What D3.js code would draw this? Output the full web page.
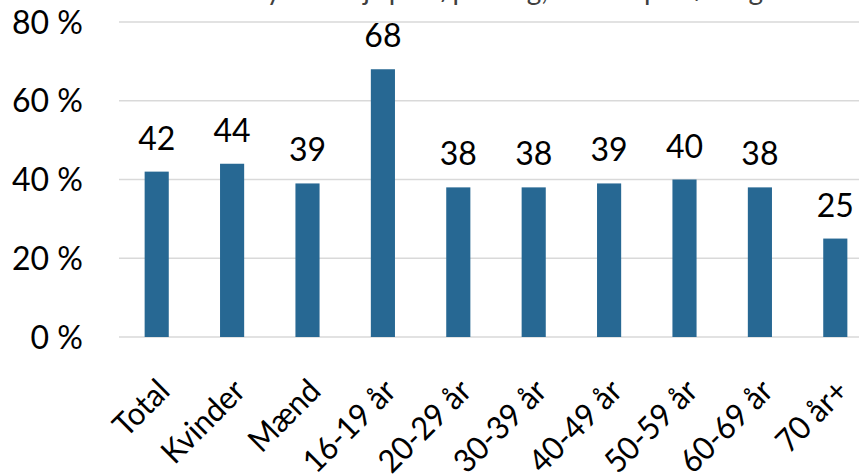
<!DOCTYPE html>
<html>
<head>
<meta charset="utf-8">
<script src="https://cdn.jsdelivr.net/npm/d3@7"></script>
<style>
  html, body { margin: 0; padding: 0; background: #fff; }
  svg { display: block; }
  text { font-family: Lato, "Open Sans", sans-serif; fill: #000; }
</style>
</head>
<body>
<svg id="chart" width="859" height="474"></svg>
<script>
const categories = ["Total", "Kvinder", "Mænd", "16-19 år", "20-29 år", "30-39 år", "40-49 år", "50-59 år", "60-69 år", "70 år+"];
const values = [42, 44, 39, 68, 38, 38, 39, 40, 38, 25];
const yTicks = [0, 20, 40, 60, 80];
const titleText = "Andel der har dyrket sejlsport/padling, fordelt på køn og alder";

const svg = d3.select("#chart");
const W = 859, H = 474;
const plot = { left: 119, right: 873, top: 22, bottom: 337 };

const x = d3.scaleBand().domain(categories).range([plot.left, plot.right])
  .paddingInner(0.68).paddingOuter(0.34);
const y = d3.scaleLinear().domain([0, 80]).range([plot.bottom, plot.top]);

// title (mostly cut off at top)
svg.append("text")
  .attr("x", 455).attr("y", 0)
  .attr("text-anchor", "middle")
  .style("font-size", "28px")
  .style("fill", "#404040")
  .text(titleText);

// gridlines
svg.append("g").selectAll("line").data(yTicks).join("line")
  .attr("x1", plot.left).attr("x2", plot.right)
  .attr("y1", d => y(d)).attr("y2", d => y(d))
  .attr("stroke", "#d9d9d9").attr("stroke-width", 1.5);

// y labels
svg.append("g").selectAll("text").data(yTicks).join("text")
  .attr("x", 83).attr("y", d => y(d) + 11.5)
  .attr("text-anchor", "end")
  .style("font-size", "32px")
  .text(d => d + " %");

// bars
svg.append("g").selectAll("rect").data(values).join("rect")
  .attr("x", (d, i) => x(categories[i]))
  .attr("width", x.bandwidth())
  .attr("y", d => y(d))
  .attr("height", d => y(0) - y(d))
  .attr("fill", "#276893");

// data labels
svg.append("g").selectAll("text").data(values).join("text")
  .attr("x", (d, i) => x(categories[i]) + x.bandwidth() / 2)
  .attr("y", d => y(d) - 22)
  .attr("text-anchor", "middle")
  .style("font-size", "32px")
  .text(d => d);

// category labels
svg.append("g").selectAll("text").data(categories).join("text")
  .attr("transform", d => `translate(${x(d) + x.bandwidth() / 2 + 15},393) rotate(-45) scale(0.95,1)`)
  .attr("text-anchor", "end")
  .style("font-size", "32px")
  .text(d => d);
</script>
</body>
</html>
